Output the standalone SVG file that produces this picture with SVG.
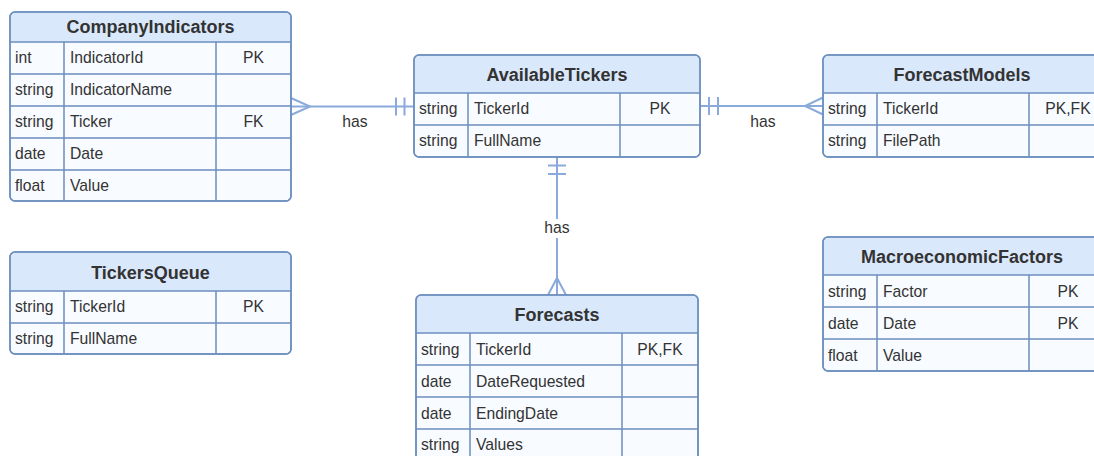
<svg xmlns="http://www.w3.org/2000/svg" width="1094" height="456" viewBox="0 0 1094 456">
  <style>
    .frame { fill: #f8fbff; stroke: #6c8ebf; stroke-width: 1.5; }
    .head { fill: #dae8fc; stroke: none; }
    .grid { stroke: #6c8ebf; stroke-width: 1.5; fill: none; }
    .title { font-family: "Liberation Sans", Arial, sans-serif; font-size: 18px; font-weight: bold; fill: #333333; text-anchor: middle; }
    .cell { font-family: "Liberation Sans", Arial, sans-serif; font-size: 15.7px; fill: #333333; }
    .key { text-anchor: middle; }
    .rel { stroke: #8aaadb; stroke-width: 2; fill: none; }
    .lbl { font-family: "Liberation Sans", Arial, sans-serif; font-size: 15.7px; fill: #333333; text-anchor: middle; }
  </style>
  <rect width="1094" height="456" fill="#ffffff"/>

  <!-- relationships -->
  <g id="connectors">
    <!-- CompanyIndicators (many) to AvailableTickers (one) -->
    <path class="rel" d="M291 106.5 H414"/>
    <path class="rel" d="M291 98 L310 106.5 L291 115"/>
    <path class="rel" d="M396 97.5 V115.5 M404.5 97.5 V115.5"/>
    <text class="lbl" x="355" y="127">has</text>

    <!-- AvailableTickers (one) to ForecastModels (many) -->
    <path class="rel" d="M700 106 H823"/>
    <path class="rel" d="M709 97 V115 M718 97 V115"/>
    <path class="rel" d="M823 97.5 L805 106 L823 114.5"/>
    <text class="lbl" x="763" y="127">has</text>

    <!-- AvailableTickers (one) to Forecasts (many) -->
    <path class="rel" d="M557 157 V295"/>
    <path class="rel" d="M548 165.5 H566 M548 174 H566"/>
    <path class="rel" d="M548 295 L557 278 L566 295"/>
    <rect x="542" y="219" width="30" height="19" fill="#ffffff"/>
    <text class="lbl" x="557" y="233">has</text>
  </g>

  <!-- CompanyIndicators -->
  <g id="CompanyIndicators">
    <rect class="frame" x="10" y="12" width="281" height="189" rx="5"/>
    <path class="head" d="M15 12.75 H286 A4.25 4.25 0 0 1 290.25 17 V42 H10.75 V17 A4.25 4.25 0 0 1 15 12.75 Z"/>
    <rect class="frame" x="10" y="12" width="281" height="189" rx="5" style="fill:none"/>
    <path class="grid" d="M10 42 H291 M10 74 H291 M10 106 H291 M10 138 H291 M10 170 H291 M64 42 V201 M216 42 V201"/>
    <text class="title" x="150.5" y="33">CompanyIndicators</text>
    <text class="cell" x="15" y="63">int</text>
    <text class="cell" x="70" y="63">IndicatorId</text>
    <text class="cell key" x="253.5" y="63">PK</text>
    <text class="cell" x="15" y="95">string</text>
    <text class="cell" x="70" y="95">IndicatorName</text>
    <text class="cell" x="15" y="127">string</text>
    <text class="cell" x="70" y="127">Ticker</text>
    <text class="cell key" x="253.5" y="127">FK</text>
    <text class="cell" x="15" y="159">date</text>
    <text class="cell" x="70" y="159">Date</text>
    <text class="cell" x="15" y="191">float</text>
    <text class="cell" x="70" y="191">Value</text>
  </g>

  <!-- AvailableTickers -->
  <g id="AvailableTickers">
    <rect class="frame" x="414" y="55" width="286" height="102" rx="5"/>
    <path class="head" d="M419 55.75 H695 A4.25 4.25 0 0 1 699.25 60 V93 H414.75 V60 A4.25 4.25 0 0 1 419 55.75 Z"/>
    <rect class="frame" x="414" y="55" width="286" height="102" rx="5" style="fill:none"/>
    <path class="grid" d="M414 93 H700 M414 125 H700 M468 93 V157 M620 93 V157"/>
    <text class="title" x="557" y="81">AvailableTickers</text>
    <text class="cell" x="419" y="114">string</text>
    <text class="cell" x="474" y="114">TickerId</text>
    <text class="cell key" x="660" y="114">PK</text>
    <text class="cell" x="419" y="146">string</text>
    <text class="cell" x="474" y="146">FullName</text>
  </g>

  <!-- ForecastModels -->
  <g id="ForecastModels">
    <rect class="frame" x="823" y="55" width="286" height="102" rx="5"/>
    <path class="head" d="M828 55.75 H1104 A4.25 4.25 0 0 1 1108.25 60 V93 H823.75 V60 A4.25 4.25 0 0 1 828 55.75 Z"/>
    <rect class="frame" x="823" y="55" width="286" height="102" rx="5" style="fill:none"/>
    <path class="grid" d="M823 93 H1109 M823 125 H1109 M877 93 V157 M1029 93 V157"/>
    <text class="title" x="962" y="81">ForecastModels</text>
    <text class="cell" x="828" y="114">string</text>
    <text class="cell" x="883" y="114">TickerId</text>
    <text class="cell key" x="1068" y="114">PK,FK</text>
    <text class="cell" x="828" y="146">string</text>
    <text class="cell" x="883" y="146">FilePath</text>
  </g>

  <!-- TickersQueue -->
  <g id="TickersQueue">
    <rect class="frame" x="10" y="252" width="281" height="102" rx="5"/>
    <path class="head" d="M15 252.75 H286 A4.25 4.25 0 0 1 290.25 257 V291 H10.75 V257 A4.25 4.25 0 0 1 15 252.75 Z"/>
    <rect class="frame" x="10" y="252" width="281" height="102" rx="5" style="fill:none"/>
    <path class="grid" d="M10 291 H291 M10 323 H291 M64 291 V354 M216 291 V354"/>
    <text class="title" x="150.5" y="279">TickersQueue</text>
    <text class="cell" x="15" y="312">string</text>
    <text class="cell" x="70" y="312">TickerId</text>
    <text class="cell key" x="253.5" y="312">PK</text>
    <text class="cell" x="15" y="344">string</text>
    <text class="cell" x="70" y="344">FullName</text>
  </g>

  <!-- Forecasts -->
  <g id="Forecasts">
    <rect class="frame" x="416" y="295" width="282" height="166" rx="5"/>
    <path class="head" d="M421 295.75 H693 A4.25 4.25 0 0 1 697.25 300 V333 H416.75 V300 A4.25 4.25 0 0 1 421 295.75 Z"/>
    <rect class="frame" x="416" y="295" width="282" height="166" rx="5" style="fill:none"/>
    <path class="grid" d="M416 333 H698 M416 365 H698 M416 397 H698 M416 429 H698 M470 333 V461 M622 333 V461"/>
    <text class="title" x="557" y="321">Forecasts</text>
    <text class="cell" x="421" y="355">string</text>
    <text class="cell" x="476" y="355">TickerId</text>
    <text class="cell key" x="660" y="355">PK,FK</text>
    <text class="cell" x="421" y="387">date</text>
    <text class="cell" x="476" y="387">DateRequested</text>
    <text class="cell" x="421" y="419">date</text>
    <text class="cell" x="476" y="419">EndingDate</text>
    <text class="cell" x="421" y="450">string</text>
    <text class="cell" x="476" y="450">Values</text>
  </g>

  <!-- MacroeconomicFactors -->
  <g id="MacroeconomicFactors">
    <rect class="frame" x="823" y="237" width="286" height="134" rx="5"/>
    <path class="head" d="M828 237.75 H1104 A4.25 4.25 0 0 1 1108.25 242 V275 H823.75 V242 A4.25 4.25 0 0 1 828 237.75 Z"/>
    <rect class="frame" x="823" y="237" width="286" height="134" rx="5" style="fill:none"/>
    <path class="grid" d="M823 275 H1109 M823 307 H1109 M823 339 H1109 M877 275 V371 M1029 275 V371"/>
    <text class="title" x="962" y="263">MacroeconomicFactors</text>
    <text class="cell" x="828" y="297">string</text>
    <text class="cell" x="883" y="297">Factor</text>
    <text class="cell key" x="1068" y="297">PK</text>
    <text class="cell" x="828" y="329">date</text>
    <text class="cell" x="883" y="329">Date</text>
    <text class="cell key" x="1068" y="329">PK</text>
    <text class="cell" x="828" y="361">float</text>
    <text class="cell" x="883" y="361">Value</text>
  </g>
</svg>
